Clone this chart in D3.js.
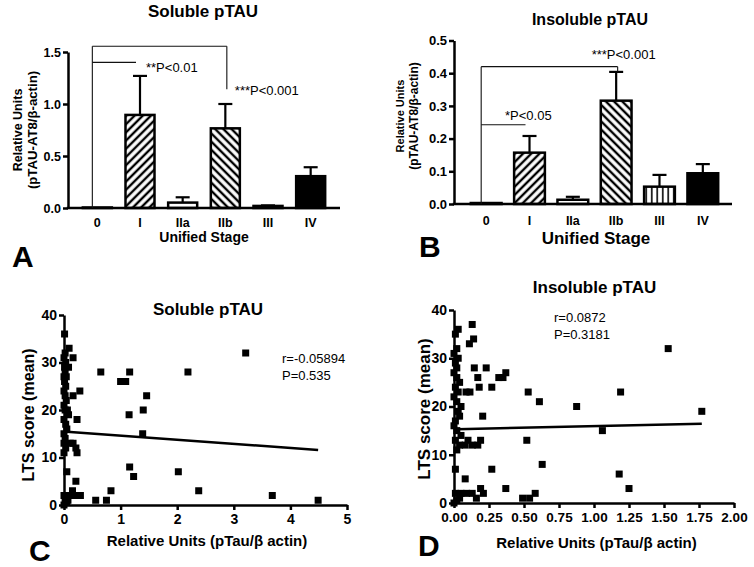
<!DOCTYPE html>
<html><head><meta charset="utf-8">
<script src="https://cdn.jsdelivr.net/npm/d3@7"></script>
<style>
body{margin:0;background:#fff}
svg{display:block;background:#fff}
text{font-family:"Liberation Sans",Arial,sans-serif;fill:#000}
</style></head><body>
<svg id="chart" width="754" height="567"></svg>
<script>
// ---------------- data ----------------
const stages = ["0","I","IIa","IIb","III","IV"];
const stageFill = ["blank","fwd","blank","back","vert","solid"];
const solubleMean = [0.005, 0.895, 0.052, 0.766, 0.020, 0.306];
const solubleSEM  = [0.000, 0.375, 0.051, 0.234, 0.005, 0.086];
const insolubleMean = [0.003, 0.157, 0.013, 0.316, 0.053, 0.094];
const insolubleSEM  = [0.000, 0.051, 0.009, 0.088, 0.036, 0.028];
const solubleBarTicks = [0, 0.5, 1.0, 1.5];
const insolubleBarTicks = [0, 0.1, 0.2, 0.3, 0.4, 0.5];
const solubleTests = [["0","IIb","***P<0.001"],["0","I","**P<0.01"]];
const insolubleTests = [["0","IIb","***P<0.001"],["0","I","*P<0.05"]];
const scoreTicks = [0,10,20,30,40];
const solubleUnitTicks = [0,1,2,3,4,5];
const insolubleUnitTicks = [0,0.25,0.5,0.75,1,1.25,1.5,1.75,2];
const solublePoints = [
 [0.01,36],[0.02,32],[0.0,31],[0.03,30],[0.01,29],[0.02,28],[0.0,27],[0.04,27],[0.01,26],[0.03,25],
 [0.0,24],[0.02,23],[0.04,22],[0.0,21],[0.06,20],[0.02,20],[0.08,19],[0.0,18],[0.03,17],[0.05,16],
 [0.0,15],[0.02,14],[0.0,13],[0.03,12],[0.0,11],[0.05,7],[0.0,2],[0.02,1],[0.05,0.5],[0.0,0],
 [0.09,33],[0.16,31],[0.08,29],[0.65,28],[1.16,28],[1.0,26],[1.09,26],[0.28,24],[0.16,23],[1.46,23],
 [1.40,20],[1.15,19],[0.23,18],[1.39,15],[0.11,13],[0.16,13],[0.21,12],[0.23,11],[1.16,8],[1.23,6],
 [2.02,7],[0.21,5],[0.15,3],[0.11,2],[0.2,2],[0.29,2],[0.83,3],[0.56,1],[0.75,1],[2.19,28],
 [3.21,32],[2.38,3],[3.68,2],[4.49,1],[0.07,1]
];
const insolublePoints = [
 [0.03,36],[0.01,35],[0.02,32],[0.0,31],[0.03,30],[0.01,29],[0.02,28],[0.0,27],[0.02,26],[0.04,25],
 [0.01,24],[0.03,23],[0.0,22],[0.02,21],[0.05,20],[0.03,19],[0.04,18],[0.01,17],[0.0,16],[0.02,15],
 [0.05,14],[0.01,13],[0.04,12],[0.02,11],[0.01,7],[0.01,2],[0.04,1],[0.02,0.5],[0.0,0],
 [0.13,37],[0.14,34],[0.11,33],[0.145,28],[0.23,28],[0.17,26],[0.32,26],[0.35,26],[0.37,27],[0.18,24],
 [0.27,24],[0.086,23],[0.114,23],[0.53,23],[0.61,21],[0.205,18],[0.08,12],[0.1,13],[0.13,12],[0.17,12],
 [0.19,13],[0.52,13],[0.63,8],[0.27,7],[0.08,5],[0.19,3],[0.37,3],[0.05,2],[0.09,2],[0.13,2],
 [0.21,2],[0.58,2],[0.49,1],[0.54,1],[0.16,1],[0.876,20],[1.19,23],[1.53,32],[1.77,19],[1.06,15],
 [1.18,6],[1.25,3]
];
const solubleFit = [[0.05,15.4],[4.49,11.6]];
const insolubleFit = [[0.02,15.3],[1.77,16.4]];
const solubleStats = ["r=-0.05894","P=0.535"];
const insolubleStats = ["r=0.0872","P=0.3181"];

// ---------------- drawing ----------------
const svg = d3.select("#chart");
const defs = svg.append("defs");
function hatch(id, angle, gap, sw){
  const p = defs.append("pattern").attr("id",id).attr("patternUnits","userSpaceOnUse")
    .attr("width",gap).attr("height",gap).attr("patternTransform",`rotate(${angle})`);
  p.append("rect").attr("width",gap).attr("height",gap).attr("fill","#fff");
  p.append("line").attr("x1",gap/2).attr("x2",gap/2).attr("y1",0).attr("y2",gap)
    .attr("stroke","#000").attr("stroke-width",sw);
}
hatch("fwd",45,5.8,2.4);
hatch("back",-45,5.8,2.4);
hatch("vert",0,5.5,1.6);
const fillFor = k => k==="solid" ? "#000" : k==="blank" ? "#fff" : `url(#${k})`;

function txt(g, s, x, y, size, weight, anchor, rot){
  const t = g.append("text").text(s).attr("font-size",size).attr("font-weight",weight||"normal")
    .attr("text-anchor",anchor||"start");
  if(rot) t.attr("transform",`translate(${x},${y}) rotate(-90)`);
  else t.attr("x",x).attr("y",y);
  return t;
}
function styleAxis(a, sw){
  a.selectAll("path.domain").attr("stroke","#000").attr("stroke-width",sw);
  a.selectAll(".tick line").attr("stroke","#000").attr("stroke-width",sw);
  a.selectAll(".tick text").attr("font-weight","bold").attr("fill","#000")
   .attr("font-family","'Liberation Sans',Arial,sans-serif");
}

function barPanel(c){
  const g = svg.append("g");
  const y = d3.scaleLinear().domain([0,c.yMax]).range([c.y0,c.yTop]);
  const x = d3.scaleBand().domain(stages).range(c.band).paddingInner(c.pi).paddingOuter(c.po);
  const bw = x.bandwidth(), cx = d => x(d)+bw/2;
  // error bars
  stages.forEach((s,i)=>{
    if(c.sem[i] <= 0) return;
    const top = y(c.mean[i]+c.sem[i]);
    g.append("line").attr("x1",cx(s)).attr("x2",cx(s)).attr("y1",y(c.mean[i])).attr("y2",top)
      .attr("stroke","#000").attr("stroke-width",2.2);
    g.append("line").attr("x1",cx(s)-7).attr("x2",cx(s)+7).attr("y1",top).attr("y2",top)
      .attr("stroke","#000").attr("stroke-width",2.2);
  });
  g.selectAll("rect.bar").data(stages).join("rect").attr("class","bar")
    .attr("x",d=>x(d)).attr("width",bw)
    .attr("y",(d,i)=>y(c.mean[i])).attr("height",(d,i)=>y(0)-y(c.mean[i]))
    .attr("fill",(d,i)=>fillFor(stageFill[i])).attr("stroke","#000").attr("stroke-width",2.5);
  // axes
  const ya = g.append("g").attr("transform",`translate(${c.x0},0)`)
    .call(d3.axisLeft(y).tickValues(c.ticks).tickFormat(d3.format(".1f")).tickSize(5).tickSizeOuter(0).tickPadding(2));
  styleAxis(ya,2.5); ya.selectAll(".tick text").attr("font-size",c.tickFont);
  g.append("line").attr("x1",c.x0-1.25).attr("x2",c.xEnd).attr("y1",y(0)).attr("y2",y(0))
    .attr("stroke","#000").attr("stroke-width",2.5);
  const xa = g.append("g").attr("transform",`translate(0,${y(0)})`)
    .call(d3.axisBottom(x).tickSize(0).tickPadding(c.xPad));
  xa.select("path.domain").remove();
  styleAxis(xa,2.5); xa.selectAll(".tick text").attr("font-size",c.xFont);
  // comparisons
  const [outer, inner] = c.tests;
  const lx = cx(outer[0]) - 5;
  const oy = y(c.outerLevel), iy = y(c.innerLevel);
  const ox2 = cx(outer[1]) + 1.5, ix2 = cx(inner[1]) - 4;
  const line = (x1,y1,x2,y2)=>g.append("line").attr("x1",x1).attr("y1",y1).attr("x2",x2).attr("y2",y2)
     .attr("stroke","#111").attr("stroke-width",1.1);
  line(lx,oy,ox2,oy); line(lx,oy,lx,y(0)); line(ox2,oy,ox2,oy+c.rightDrop);
  line(lx,iy,ix2,iy);
  txt(g,outer[2],cx(outer[1])+c.outerDx,oy+c.outerDy,13);
  txt(g,inner[2],cx(inner[1])+c.innerDx,iy+c.innerDy,13);
  // labels
  txt(g,c.title,c.titleX,c.titleY,c.titleFont,"bold","middle");
  txt(g,"Relative Units",c.yl1x,c.ylY,c.yl1Font,"bold","middle",true);
  txt(g,"(pTAU-AT8/β-actin)",c.yl2x,c.ylY,c.yl2Font,"bold","middle",true);
  txt(g,"Unified Stage",c.xlX,c.xlY,c.xlFont,"bold","middle");
  txt(g,c.letter,c.letterX,c.letterY,30,"bold").attr("font-family","'Liberation Sans Narrow','Arial Narrow','Liberation Sans',sans-serif");
}

barPanel({yMax:1.5,y0:208,yTop:52,band:[76,332],pi:0.32,po:0.16,x0:68,xEnd:340,
  mean:solubleMean,sem:solubleSEM,ticks:solubleBarTicks,tickFont:12.5,xFont:12.5,xPad:10,
  tests:solubleTests,outerLevel:1.555,innerLevel:1.40,rightDrop:43,
  outerDx:9.5,outerDy:49,innerDx:6,innerDy:9.5,
  title:"Soluble pTAU",titleX:203,titleY:17,titleFont:17,
  yl1x:21.5,yl2x:37,ylY:130,yl1Font:12.5,yl2Font:13.2,
  xlX:204,xlY:242,xlFont:14,letter:"A",letterX:12,letterY:267});

barPanel({yMax:0.5,y0:204,yTop:40.5,band:[464.3,724.7],pi:0.29,po:0.15,x0:454,xEnd:732,
  mean:insolubleMean,sem:insolubleSEM,ticks:insolubleBarTicks,tickFont:13,xFont:12.5,xPad:12,
  tests:insolubleTests,outerLevel:0.42,innerLevel:0.2425,rightDrop:5,
  outerDx:-24.5,outerDy:-7.4,innerDx:-24.5,innerDy:-4.7,
  title:"Insoluble pTAU",titleX:590,titleY:25,titleFont:16,
  yl1x:404,yl2x:418,ylY:116,yl1Font:11,yl2Font:12,
  xlX:596,xlY:244,xlFont:17,letter:"B",letterX:419,letterY:257});

function scatterPanel(c){
  const g = svg.append("g");
  const x = d3.scaleLinear().domain([0,c.xMax]).range([c.x0,c.x1]);
  const y = d3.scaleLinear().domain([0,40]).range([c.y0,c.y1]);
  const ya = g.append("g").attr("transform",`translate(${c.x0},0)`)
    .call(d3.axisLeft(y).tickValues(scoreTicks).tickSize(5).tickSizeOuter(0).tickPadding(2));
  styleAxis(ya,2.5); ya.selectAll(".tick text").attr("font-size",14);
  const xa = g.append("g").attr("transform",`translate(0,${c.y0})`)
    .call(d3.axisBottom(x).tickValues(c.ticks).tickFormat(c.fmt).tickSize(5).tickSizeOuter(0).tickPadding(4));
  styleAxis(xa,2.5); xa.selectAll(".tick text").attr("font-size",c.xTickFont);
  g.append("line").attr("x1",x(c.fit[0][0])).attr("y1",y(c.fit[0][1]))
    .attr("x2",x(c.fit[1][0])).attr("y2",y(c.fit[1][1])).attr("stroke","#000").attr("stroke-width",2.5);
  g.selectAll("rect.pt").data(c.points).join("rect").attr("class","pt")
    .attr("x",d=>x(d[0])-3.5).attr("y",d=>y(d[1])-3.5).attr("width",7).attr("height",7).attr("fill","#000");
  txt(g,c.stats[0],c.statX,c.statY,13);
  txt(g,c.stats[1],c.statX,c.statY+17,13);
  txt(g,c.title,c.titleX,c.titleY,17,"bold","middle");
  txt(g,"LTS score (mean)",c.ylX,c.ylY,c.ylFont,"bold","middle",true);
  txt(g,"Relative Units (pTau/β actin)",c.xlX,c.xlY,15,"bold","middle");
  txt(g,c.letter,c.letterX,c.letterY,30,"bold").attr("font-family","'Liberation Sans Narrow','Arial Narrow','Liberation Sans',sans-serif");
}

scatterPanel({xMax:5,x0:64,x1:347,y0:505,y1:315,ticks:solubleUnitTicks,fmt:d3.format("d"),xTickFont:14,
  points:solublePoints,fit:solubleFit,stats:solubleStats,statX:282,statY:363,
  title:"Soluble pTAU",titleX:208,titleY:315,ylX:34,ylY:415,ylFont:16,
  xlX:207,xlY:546,letter:"C",letterX:29,letterY:561});

scatterPanel({xMax:2,x0:454,x1:734,y0:503,y1:310,ticks:insolubleUnitTicks,fmt:d3.format(".2f"),xTickFont:13.5,
  points:insolublePoints,fit:insolubleFit,stats:insolubleStats,statX:554,statY:321.5,
  title:"Insoluble pTAU",titleX:594.5,titleY:292.5,ylX:430,ylY:409,ylFont:17,
  xlX:596.5,xlY:548,letter:"D",letterX:418,letterY:556});
</script>
</body></html>
